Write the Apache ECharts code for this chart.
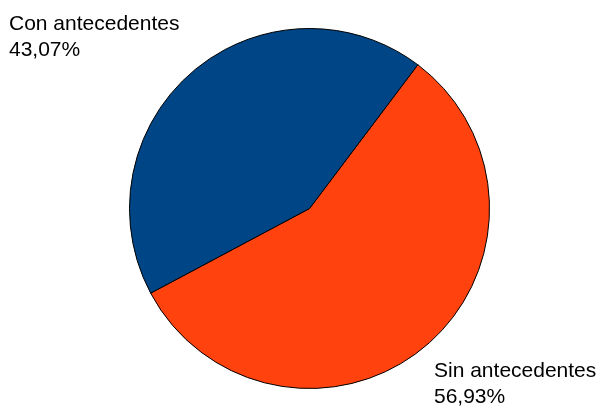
<!DOCTYPE html>
<html>
<head>
<meta charset="utf-8">
<script src="https://cdn.jsdelivr.net/npm/echarts@6/dist/echarts.min.js"></script>
<style>html,body{margin:0;padding:0;background:#fff}#c{width:602px;height:408px}</style>
</head>
<body>
<div id="c"></div>
<script>
const categories = ['Sin antecedentes', 'Con antecedentes'];
const values = [56.93, 43.07];
const colors = ['#ff420e', '#004586'];

const chart = echarts.init(document.getElementById('c'), null, {renderer: 'canvas'});
const labelPos = {
  'Con antecedentes': {x: 9, y: 11},
  'Sin antecedentes': {x: 434, y: 358}
};
chart.setOption({
  animation: false,
  series: [{
    type: 'pie',
    center: [309.5, 208.5],
    radius: 180,
    startAngle: 53,
    clockwise: true,
    avoidLabelOverlap: false,
    data: categories.map((c, i) => ({name: c, value: values[i], itemStyle: {color: colors[i]}})),
    itemStyle: {borderColor: '#000', borderWidth: 1},
    label: {
      show: true,
      position: 'outside',
      color: '#000',
      fontFamily: 'Liberation Sans',
      fontSize: 21,
      lineHeight: 26,
      align: 'left',
      formatter: p => p.name + '\n' + p.value.toFixed(2).replace('.', ',') + '%'
    },
    labelLine: {show: false},
    labelLayout: function (params) {
      const name = categories[params.dataIndex];
      const pos = labelPos[name];
      return {x: pos.x, y: pos.y, align: 'left', verticalAlign: 'top'};
    },
    emphasis: {disabled: true}
  }]
});
</script>
</body>
</html>
